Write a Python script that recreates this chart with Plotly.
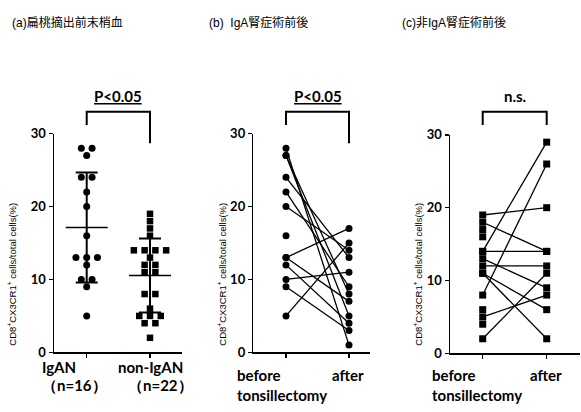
import numpy as np
import plotly.graph_objects as go

# ---------------- data ----------------
# (a) peripheral blood before tonsillectomy
iga_vals = [28, 28, 27, 24, 24, 22, 20, 16, 13, 13, 13, 12, 10, 10, 9, 5]
non_iga_vals = [19, 18, 17, 16, 14, 14, 14, 14, 13, 12, 12, 11, 11, 8, 8, 6, 5, 5, 5, 4, 4, 2]
group_labels = ["IgAN", "non-IgAN"]
group_n = ["（n=16）", "（n=22）"]

# (b) IgA nephropathy before / after (None = missing pair)
b_before = [28, 27, 27, 24, 22, 20, 13, 13, 12, 10, 9, 5, 16]
b_after = [1, 5, 8, 13, 9, 14, 17, 7, 4, 11, 3, 15, None]

# (c) non-IgA nephropathy before / after
c_before = [19, 18, 14, 14, 13, 12, 11, 11, 8, 5, 2, 17, 16, 6, 4]
c_after = [20, 14, 14, 29, 9, 12, 6, 2, 26, 8, 11, None, None, None, None]

time_labels = ["before", "after"]
y_ticks = [0, 10, 20, 30]
panel_titles = ["(a)扁桃摘出前末梢血", "(b)\u00a0\u00a0IgA腎症術前後", "(c)非IgA腎症術前後"]
sig_labels = ["<u>P<0.05</u>", "<u>P<0.05</u>", "n.s."]
y_title = "CD8<sup>+</sup>CX3CR1<sup>+</sup> cells/total cells(%)"

W, H = 581, 412
BOLD = "Lato, Open Sans, sans-serif"
SANS = "Liberation Sans, Arial, Noto Sans CJK JP, sans-serif"


def swarm_x(center, vals, step):
    vals = list(vals)
    xs = []
    seen = {}
    counts = {v: vals.count(v) for v in vals}
    for v in vals:
        i = seen.get(v, 0)
        seen[v] = i + 1
        n = counts[v]
        xs.append(center + (i - (n - 1) / 2) * step)
    return xs


fig = go.Figure()

# ---- panel (a) ----
step = 0.17
fig.add_trace(go.Scatter(x=swarm_x(0, iga_vals, step), y=iga_vals, mode="markers",
                         marker=dict(symbol="circle", size=7, color="black"),
                         xaxis="x", yaxis="y", cliponaxis=False, showlegend=False))
fig.add_trace(go.Scatter(x=swarm_x(1, non_iga_vals, step), y=non_iga_vals, mode="markers",
                         marker=dict(symbol="square", size=6.5, color="black"),
                         xaxis="x", yaxis="y", cliponaxis=False, showlegend=False))
means = [np.mean(iga_vals), np.mean(non_iga_vals)]
sds = [np.std(iga_vals, ddof=1), np.std(non_iga_vals, ddof=1)]
fig.add_trace(go.Scatter(x=[0, 1], y=means, mode="markers",
                         marker=dict(symbol="line-ew", size=30, color="black",
                                     line=dict(color="black", width=1.6)),
                         error_y=dict(type="data", array=sds, visible=True, color="black",
                                      thickness=2, width=11),
                         xaxis="x", yaxis="y", cliponaxis=False, showlegend=False))


# ---- panels (b) & (c) ----
def paired(before, after, xa, ya, symbol, size):
    lx, ly = [], []
    for b, a in zip(before, after):
        if b is not None and a is not None:
            lx += [0, 1, None]
            ly += [b, a, None]
    fig.add_trace(go.Scatter(x=lx, y=ly, mode="lines", line=dict(color="black", width=1.3),
                             xaxis=xa, yaxis=ya, cliponaxis=False, showlegend=False,
                             connectgaps=False))
    px = [0] * len(before) + [1] * len(after)
    py = list(before) + list(after)
    fig.add_trace(go.Scatter(x=px, y=py, mode="markers",
                             marker=dict(symbol=symbol, size=size, color="black"),
                             xaxis=xa, yaxis=ya, cliponaxis=False, showlegend=False))


paired(b_before, b_after, "x2", "y2", "circle", 7)
paired(c_before, c_after, "x3", "y3", "square", 7)

# ---------------- layout ----------------
# pixel geometry of the three panels: (y-axis x, x-axis end, cat0 px, cat1 px, y0 px, y30 px)
geo = [
    (54, 182, 86.7, 150.0, 358.3, 130.7),
    (253.3, 370, 286.0, 349.0, 358.3, 130.7),
    (450, 580, 482.7, 546.7, 359.3, 132.0),
]

layout = dict(width=W, height=H, margin=dict(l=0, r=0, t=0, b=0), autosize=False,
              paper_bgcolor="white", plot_bgcolor="white", showlegend=False)
shapes, annos = [], []
for k, (xa, xe, c0, c1, y0p, y30p) in enumerate(geo):
    sfx = "" if k == 0 else str(k + 1)
    unit = c1 - c0
    layout["xaxis" + sfx] = dict(
        domain=[xa / W, xe / W], range=[(xa - c0) / unit, (xe - c0) / unit],
        tickvals=[0, 1], ticktext=["", ""], ticks="outside", ticklen=4, tickwidth=1.5,
        tickcolor="black", showline=True, linecolor="black", linewidth=1.5,
        showgrid=False, zeroline=False, anchor="y" + sfx, fixedrange=True)
    layout["yaxis" + sfx] = dict(
        domain=[1 - y0p / H, 1 - y30p / H], range=[0, 30], tickvals=y_ticks,
        ticks="outside", ticklen=4, tickwidth=1.5, tickcolor="black",
        showline=True, linecolor="black", linewidth=1.5, showgrid=False, zeroline=False,
        tickfont=dict(family=BOLD, size=13, color="black", weight="bold"),
        anchor="x" + sfx, fixedrange=True)

    # bracket
    xr = "x" + sfx
    right_bottom = 140.7 if k < 2 else 121.7
    shapes.append(dict(type="path", xref=xr, yref="paper",
                       path=f"M0,{1 - 121.7 / H} V{1 - 108 / H} H1 V{1 - right_bottom / H}",
                       line=dict(color="black", width=2)))
    annos.append(dict(xref=xr, yref="paper", x=0.5, y=1 - 92 / H, text=sig_labels[k],
                      xanchor="center", yanchor="middle",
                      showarrow=False, font=dict(family=BOLD, size=15, color="black", weight="bold")))
    # panel title
    tx = [10, 207, 400][k]
    annos.append(dict(xref="paper", yref="paper", x=tx / W, y=1 - 15 / H, xanchor="left",
                      yanchor="middle", text=panel_titles[k], showarrow=False,
                      font=dict(family=SANS, size=12, color="black")))
    # y title
    ytx = [12, 222, 418][k]
    annos.append(dict(xref="paper", yref="paper", x=ytx / W, y=1 - 277.5 / H,
                      xanchor="center", yanchor="middle",
                      text=y_title, textangle=-90, showarrow=False,
                      font=dict(family=SANS, size=9.5, color="black")))

# x labels panel (a)
lab_font = dict(family=BOLD, size=15, color="black", weight="bold")


def lab(xref, x, ypx, text, xanchor="center"):
    annos.append(dict(xref=xref, yref="paper", x=x, y=1 - ypx / H, text=text,
                      xanchor=xanchor, yanchor="middle", showarrow=False, font=lab_font))


lab("x", -0.445, 373, group_labels[0])
lab("x", -0.186, 392, group_n[0])
lab("x", 1.0, 373, group_labels[1])
lab("x", 1.166, 392, group_n[1])
# x labels panels (b), (c)
for sfx, left_px in (("2", 235), ("3", 430)):
    lab("paper", left_px / W, 381.7, time_labels[0], "left")
    lab("x" + sfx, 0.99, 381.7, time_labels[1])
    lab("paper", left_px / W, 402.7, "tonsillectomy", "left")

layout["shapes"] = shapes
layout["annotations"] = annos
fig.update_layout(**layout)
fig.write_html("out.html", config={"displayModeBar": False, "staticPlot": True},
               post_script="document.body.style.margin='0';document.body.style.overflow='hidden';")
